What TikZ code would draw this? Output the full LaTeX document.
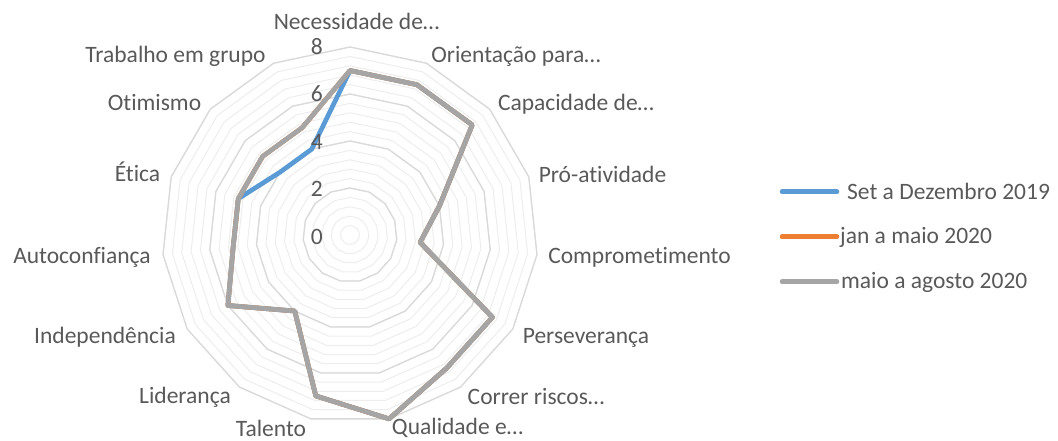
\documentclass[tikz,border=0pt]{standalone}
\usepackage{fontspec}
\setmainfont{Carlito}[Ligatures={NoCommon}]
\definecolor{txt}{HTML}{595959}
\definecolor{blu}{HTML}{5B9BD5}
\definecolor{ora}{HTML}{ED7D31}
\definecolor{gry}{HTML}{A5A5A5}
\definecolor{majgrid}{HTML}{D9D9D9}
\definecolor{mingrid}{HTML}{EDEDED}
\begin{document}
\begin{tikzpicture}[x=1pt,y=1pt,
  lab/.style={text=txt,font=\fontsize{23.5}{28}\selectfont,inner sep=0pt,anchor=base},
  minring/.style={draw=mingrid,line width=1pt},
  majring/.style={draw=majgrid,line width=1.3pt},
  serie/.style={line width=4.7pt,line join=round},
  legline/.style={line width=4.5pt,line cap=round}]
\useasboundingbox (0,0) rectangle (1058,441);

\begin{scope}[shift={(350pt,206pt)},x=23.5pt,y=23.5pt]
\foreach \r in {1,...,20}
  \draw[minring] (90:{\r*0.4}) \foreach \k in {1,...,14}{--({90-24*\k}:{\r*0.4})} -- cycle;
\foreach \r in {2,4,6,8}
  \draw[majring] (90:\r) \foreach \k in {1,...,14}{--({90-24*\k}:\r)} -- cycle;

\draw[serie,blu](90:7)--(66:7)--(42:7)--(18:4)--(-6:3)--(-30:7)--(-54:7)--(-78:8)
  --(-102:7)--(-126:4)--(-150:6)--(-174:5)--(162:5)--(138:4)--(114:4)--cycle;
\draw[serie,ora](90:7)--(66:7)--(42:7)--(18:4)--(-6:3)--(-30:7)--(-54:7)--(-78:8)
  --(-102:7)--(-126:4)--(-150:6)--(-174:5)--(162:5)--(138:5)--(114:5)--cycle;
\draw[serie,gry](90:7)--(66:7)--(42:7)--(18:4)--(-6:3)--(-30:7)--(-54:7)--(-78:8)
  --(-102:7)--(-126:4)--(-150:6)--(-174:5)--(162:5)--(138:5)--(114:5)--cycle;
\end{scope}

% escala
\node[lab,anchor=base east] (t8) at (323,386) {8};
\node[lab,anchor=base east] (t6) at (323,339.3) {6};
\node[lab,anchor=base east] (t4) at (323,291) {4};
\node[lab,anchor=base east] (t2) at (323,244.3) {2};
\node[lab,anchor=base east] (t0) at (323,196) {0};

% eixos
\node[lab] (nec) at (356.5,411) {Necessidade de…};
\node[lab] (ori) at (516,378) {Orientação para…};
\node[lab] (cap) at (576,330) {Capacidade de…};
\node[lab] (pro) at (602.5,258) {Pró-atividade};
\node[lab] (com) at (639.5,177.7) {Comprometimento};
\node[lab] (per) at (586,97.7) {Perseverança};
\node[lab] (cor) at (536,36) {Correr riscos…};
\node[lab] (qua) at (457.5,6) {Qualidade e…};
\node[lab] (tal) at (271,4.3) {Talento};
\node[lab] (lid) at (185,37) {Liderança};
\node[lab] (ind) at (105,97.7) {Independência};
\node[lab] (aut) at (82,177) {Autoconfiança};
\node[lab] (eti) at (137.5,259.3) {Ética};
\node[lab] (oti) at (154.5,330.3) {Otimismo};
\node[lab] (tra) at (175.5,378.3) {Trabalho em grupo};

% legenda
\coordinate (b1) at (782,249.3); \coordinate (b2) at (837,249.3);
\coordinate (o1) at (782,204.3); \coordinate (o2) at (837,204.3);
\coordinate (g1) at (782,159.3); \coordinate (g2) at (837,159.3);
\draw[legline,blu](b1)--(b2);
\draw[legline,ora](o1)--(o2);
\draw[legline,gry](g1)--(g2);
\node[lab,anchor=base west] (lb) at (847,241.7) {Set a Dezembro 2019};
\node[lab,anchor=base west] (lo) at (840,197) {jan a maio 2020};
\node[lab,anchor=base west] (lg) at (841,152) {maio a agosto 2020};
\end{tikzpicture}
\end{document}
